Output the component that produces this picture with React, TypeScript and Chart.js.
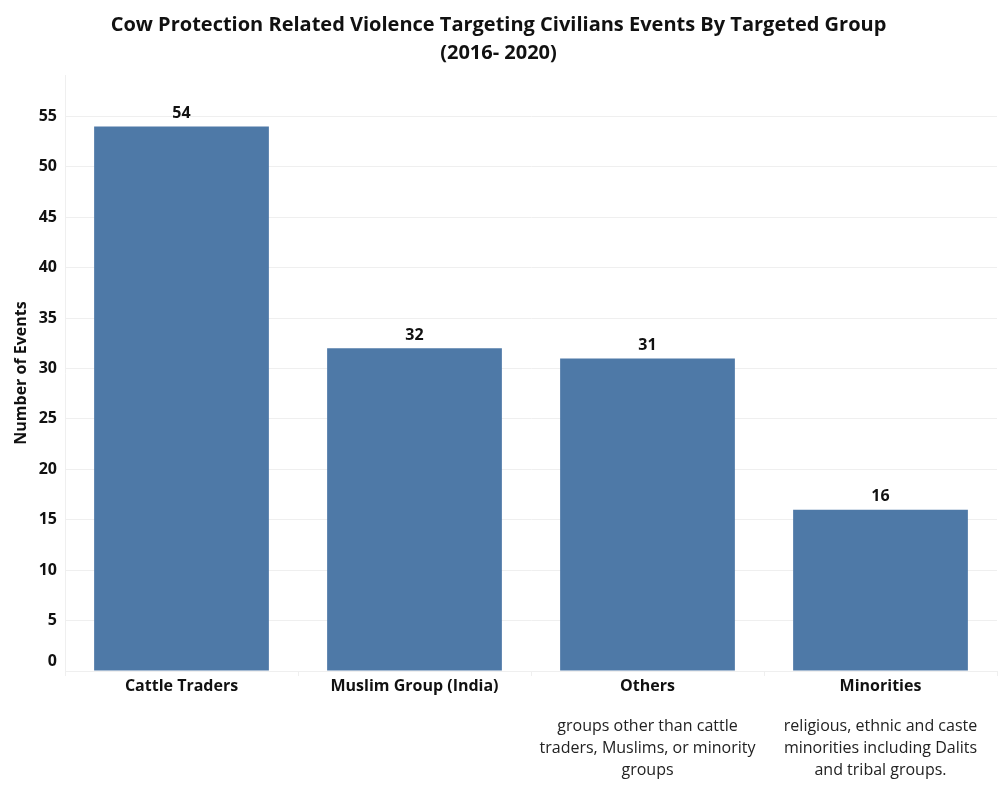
import React, { useRef, useEffect } from 'react';
import { Chart, registerables } from 'chart.js';

Chart.register(...registerables);

const categories = ['Cattle Traders', 'Muslim Group (India)', 'Others', 'Minorities'];
const eventCounts = [54, 32, 31, 16];
const descriptions: string[][] = [
  [],
  [],
  ['groups other than cattle', 'traders, Muslims, or minority', 'groups'],
  ['religious, ethnic and caste', 'minorities including Dalits', 'and tribal groups.'],
];
const yTicks = [0, 5, 10, 15, 20, 25, 30, 35, 40, 45, 50, 55];
const titleLines = [
  'Cow Protection Related Violence Targeting Civilians Events By Targeted Group',
  '(2016- 2020)',
];

const FONT = "'Open Sans', 'Noto Sans', sans-serif";
const BAR_COLOR = '#4e79a7';
const GRID_COLOR = '#efefef';

const App: React.FC = () => {
  const chartRef = useRef<HTMLCanvasElement>(null);
  const chartInstance = useRef<Chart | null>(null);

  useEffect(() => {
    if (!chartRef.current) return;
    const ctx = chartRef.current.getContext('2d');
    if (!ctx) return;

    if (chartInstance.current) {
      chartInstance.current.destroy();
    }

    // value labels above bars + notes under some categories
    const annotations = {
      id: 'annotations',
      afterDatasetsDraw(chart: any) {
        const c = chart.ctx;
        const meta = chart.getDatasetMeta(0);
        c.save();
        c.fillStyle = '#111';
        c.textAlign = 'center';
        c.textBaseline = 'middle';
        c.font = `bold 16px ${FONT}`;
        meta.data.forEach((bar: any, i: number) => {
          c.fillText(String(eventCounts[i]), bar.x, bar.y - 13);
        });

        const xScale = chart.scales.x;
        c.font = `16px ${FONT}`;
        c.fillStyle = '#222';
        descriptions.forEach((lines, i) => {
          const x = xScale.getPixelForValue(i);
          lines.forEach((line, j) => {
            c.fillText(line, x, 726 + j * 22);
          });
        });
        c.restore();
      },
    };

    chartInstance.current = new Chart(ctx, {
      type: 'bar',
      data: {
        labels: categories,
        datasets: [
          {
            label: 'Number of Events',
            data: eventCounts,
            backgroundColor: BAR_COLOR,
            borderWidth: 0,
            categoryPercentage: 0.75,
            barPercentage: 1,
          },
        ],
      },
      plugins: [annotations],
      options: {
        responsive: false,
        animation: false,
        layout: {
          padding: { top: 0, right: 3, bottom: 0, left: 0 },
        },
        plugins: {
          legend: { display: false },
          tooltip: { enabled: false },
          title: {
            display: true,
            text: titleLines,
            color: '#111',
            font: { family: FONT, size: 20, weight: 'bold', lineHeight: '28px' },
            padding: { top: 11, bottom: 8 },
          },
        },
        scales: {
          x: {
            grid: {
              display: true,
              drawOnChartArea: false,
              offset: true,
              tickLength: 5,
              color: GRID_COLOR,
            },
            border: { color: GRID_COLOR },
            ticks: {
              color: '#111',
              padding: 1,
              font: { family: FONT, size: 16, weight: 'bold' },
              maxRotation: 0,
            },
            afterFit: (scale: any) => {
              scale.height = 129;
            },
          },
          y: {
            min: 0,
            max: 59.1,
            afterBuildTicks: (scale: any) => {
              scale.ticks = yTicks.map((v) => ({ value: v }));
            },
            grid: {
              color: GRID_COLOR,
              drawTicks: false,
            },
            border: { color: GRID_COLOR },
            ticks: {
              color: '#111',
              padding: 8,
              font: { family: FONT, size: 16, weight: 'bold' },
              callback: (value: any) => (value === 0 ? ['0', ''] : String(value)),
            },
            title: {
              display: true,
              text: 'Number of Events',
              color: '#111',
              font: { family: FONT, size: 16, weight: 'bold' },
              padding: { top: 12, bottom: 0 },
            },
            afterFit: (scale: any) => {
              scale.width = 65;
            },
          },
        },
      },
    });

    return () => {
      if (chartInstance.current) {
        chartInstance.current.destroy();
        chartInstance.current = null;
      }
    };
  }, []);

  return (
    <div style={{ position: 'absolute', left: 0, top: 0, width: 1000, height: 800, background: '#fff' }}>
      <canvas ref={chartRef} width={1000} height={800} />
    </div>
  );
};

export default App;
